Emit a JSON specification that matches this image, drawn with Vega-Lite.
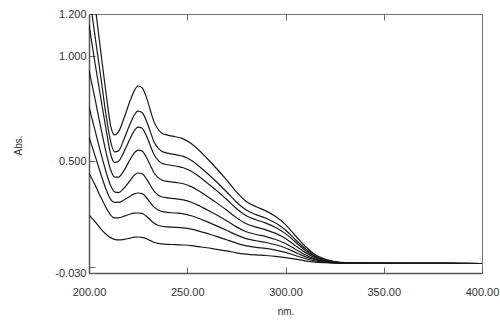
{
  "$schema": "https://vega.github.io/schema/vega-lite/v6.json",
  "autosize": "none",
  "width": 393,
  "height": 259,
  "padding": {"left": 89, "top": 14, "right": 18, "bottom": 50},
  "background": "white",
  "config": {
    "view": {"stroke": "#777777", "strokeWidth": 1},
    "axis": {"labelFont": "Liberation Sans", "titleFont": "Liberation Sans", "labelColor": "#333333", "titleColor": "#333333", "grid": false, "domainColor": "#555555", "domainWidth": 1.5, "tickColor": "#666666"}
  },
  "datasets": {
    "spec": [
      {"s":"c8","x":200,"y":1.48},{"s":"c8","x":203,"y":1.25},{"s":"c8","x":206,"y":1.02},{"s":"c8","x":209,"y":0.80},{"s":"c8","x":211,"y":0.67},{"s":"c8","x":213,"y":0.626},{"s":"c8","x":215,"y":0.64},{"s":"c8","x":218,"y":0.71},{"s":"c8","x":221,"y":0.79},{"s":"c8","x":223,"y":0.835},{"s":"c8","x":225,"y":0.858},{"s":"c8","x":227,"y":0.85},{"s":"c8","x":229,"y":0.81},{"s":"c8","x":231,"y":0.75},{"s":"c8","x":233,"y":0.69},{"s":"c8","x":235,"y":0.655},{"s":"c8","x":237,"y":0.635},{"s":"c8","x":240,"y":0.625},{"s":"c8","x":244,"y":0.617},{"s":"c8","x":248,"y":0.607},{"s":"c8","x":252,"y":0.585},{"s":"c8","x":256,"y":0.553},{"s":"c8","x":260,"y":0.515},{"s":"c8","x":265,"y":0.465},{"s":"c8","x":270,"y":0.412},{"s":"c8","x":275,"y":0.355},{"s":"c8","x":280,"y":0.31},{"s":"c8","x":285,"y":0.285},{"s":"c8","x":290,"y":0.265},{"s":"c8","x":295,"y":0.238},{"s":"c8","x":300,"y":0.20},{"s":"c8","x":305,"y":0.148},{"s":"c8","x":310,"y":0.097},{"s":"c8","x":315,"y":0.058},{"s":"c8","x":320,"y":0.036},{"s":"c8","x":325,"y":0.024},{"s":"c8","x":330,"y":0.019},{"s":"c8","x":340,"y":0.017},{"s":"c8","x":360,"y":0.016},{"s":"c8","x":380,"y":0.016},{"s":"c8","x":400,"y":0.015},
      {"s":"c7","x":200,"y":1.30},{"s":"c7","x":203,"y":1.10},{"s":"c7","x":206,"y":0.90},{"s":"c7","x":209,"y":0.70},{"s":"c7","x":211,"y":0.595},{"s":"c7","x":213,"y":0.545},{"s":"c7","x":215,"y":0.55},{"s":"c7","x":218,"y":0.61},{"s":"c7","x":221,"y":0.68},{"s":"c7","x":223,"y":0.72},{"s":"c7","x":225,"y":0.739},{"s":"c7","x":227,"y":0.732},{"s":"c7","x":229,"y":0.698},{"s":"c7","x":231,"y":0.647},{"s":"c7","x":233,"y":0.595},{"s":"c7","x":235,"y":0.565},{"s":"c7","x":237,"y":0.548},{"s":"c7","x":240,"y":0.539},{"s":"c7","x":244,"y":0.532},{"s":"c7","x":248,"y":0.524},{"s":"c7","x":252,"y":0.505},{"s":"c7","x":256,"y":0.477},{"s":"c7","x":260,"y":0.445},{"s":"c7","x":265,"y":0.402},{"s":"c7","x":270,"y":0.356},{"s":"c7","x":275,"y":0.307},{"s":"c7","x":280,"y":0.269},{"s":"c7","x":285,"y":0.247},{"s":"c7","x":290,"y":0.230},{"s":"c7","x":295,"y":0.207},{"s":"c7","x":300,"y":0.174},{"s":"c7","x":305,"y":0.129},{"s":"c7","x":310,"y":0.086},{"s":"c7","x":315,"y":0.052},{"s":"c7","x":320,"y":0.033},{"s":"c7","x":325,"y":0.023},{"s":"c7","x":330,"y":0.019},{"s":"c7","x":340,"y":0.017},{"s":"c7","x":360,"y":0.016},{"s":"c7","x":380,"y":0.016},{"s":"c7","x":400,"y":0.015},
      {"s":"c6","x":200,"y":1.15},{"s":"c6","x":203,"y":0.97},{"s":"c6","x":206,"y":0.80},{"s":"c6","x":209,"y":0.635},{"s":"c6","x":211,"y":0.535},{"s":"c6","x":213,"y":0.495},{"s":"c6","x":215,"y":0.50},{"s":"c6","x":218,"y":0.55},{"s":"c6","x":221,"y":0.61},{"s":"c6","x":223,"y":0.645},{"s":"c6","x":225,"y":0.663},{"s":"c6","x":227,"y":0.657},{"s":"c6","x":229,"y":0.626},{"s":"c6","x":231,"y":0.580},{"s":"c6","x":233,"y":0.534},{"s":"c6","x":235,"y":0.507},{"s":"c6","x":237,"y":0.491},{"s":"c6","x":240,"y":0.484},{"s":"c6","x":244,"y":0.478},{"s":"c6","x":248,"y":0.470},{"s":"c6","x":252,"y":0.453},{"s":"c6","x":256,"y":0.428},{"s":"c6","x":260,"y":0.399},{"s":"c6","x":265,"y":0.361},{"s":"c6","x":270,"y":0.320},{"s":"c6","x":275,"y":0.276},{"s":"c6","x":280,"y":0.242},{"s":"c6","x":285,"y":0.223},{"s":"c6","x":290,"y":0.207},{"s":"c6","x":295,"y":0.186},{"s":"c6","x":300,"y":0.157},{"s":"c6","x":305,"y":0.117},{"s":"c6","x":310,"y":0.078},{"s":"c6","x":315,"y":0.048},{"s":"c6","x":320,"y":0.031},{"s":"c6","x":325,"y":0.022},{"s":"c6","x":330,"y":0.018},{"s":"c6","x":340,"y":0.017},{"s":"c6","x":360,"y":0.016},{"s":"c6","x":380,"y":0.016},{"s":"c6","x":400,"y":0.015},
      {"s":"c5","x":200,"y":0.934},{"s":"c5","x":203,"y":0.80},{"s":"c5","x":206,"y":0.66},{"s":"c5","x":209,"y":0.53},{"s":"c5","x":211,"y":0.46},{"s":"c5","x":213,"y":0.425},{"s":"c5","x":215,"y":0.425},{"s":"c5","x":218,"y":0.46},{"s":"c5","x":221,"y":0.51},{"s":"c5","x":223,"y":0.54},{"s":"c5","x":225,"y":0.554},{"s":"c5","x":227,"y":0.549},{"s":"c5","x":229,"y":0.523},{"s":"c5","x":231,"y":0.485},{"s":"c5","x":233,"y":0.447},{"s":"c5","x":235,"y":0.424},{"s":"c5","x":237,"y":0.412},{"s":"c5","x":240,"y":0.405},{"s":"c5","x":244,"y":0.400},{"s":"c5","x":248,"y":0.394},{"s":"c5","x":252,"y":0.380},{"s":"c5","x":256,"y":0.359},{"s":"c5","x":260,"y":0.335},{"s":"c5","x":265,"y":0.303},{"s":"c5","x":270,"y":0.269},{"s":"c5","x":275,"y":0.233},{"s":"c5","x":280,"y":0.204},{"s":"c5","x":285,"y":0.188},{"s":"c5","x":290,"y":0.175},{"s":"c5","x":295,"y":0.158},{"s":"c5","x":300,"y":0.134},{"s":"c5","x":305,"y":0.100},{"s":"c5","x":310,"y":0.068},{"s":"c5","x":315,"y":0.043},{"s":"c5","x":320,"y":0.029},{"s":"c5","x":325,"y":0.021},{"s":"c5","x":330,"y":0.018},{"s":"c5","x":340,"y":0.017},{"s":"c5","x":360,"y":0.016},{"s":"c5","x":380,"y":0.016},{"s":"c5","x":400,"y":0.015},
      {"s":"c4","x":200,"y":0.758},{"s":"c4","x":203,"y":0.65},{"s":"c4","x":206,"y":0.54},{"s":"c4","x":209,"y":0.44},{"s":"c4","x":211,"y":0.385},{"s":"c4","x":213,"y":0.355},{"s":"c4","x":215,"y":0.352},{"s":"c4","x":218,"y":0.375},{"s":"c4","x":221,"y":0.41},{"s":"c4","x":223,"y":0.435},{"s":"c4","x":225,"y":0.445},{"s":"c4","x":227,"y":0.441},{"s":"c4","x":229,"y":0.421},{"s":"c4","x":231,"y":0.390},{"s":"c4","x":233,"y":0.360},{"s":"c4","x":235,"y":0.342},{"s":"c4","x":237,"y":0.332},{"s":"c4","x":240,"y":0.327},{"s":"c4","x":244,"y":0.323},{"s":"c4","x":248,"y":0.317},{"s":"c4","x":252,"y":0.306},{"s":"c4","x":256,"y":0.290},{"s":"c4","x":260,"y":0.270},{"s":"c4","x":265,"y":0.245},{"s":"c4","x":270,"y":0.218},{"s":"c4","x":275,"y":0.189},{"s":"c4","x":280,"y":0.166},{"s":"c4","x":285,"y":0.153},{"s":"c4","x":290,"y":0.143},{"s":"c4","x":295,"y":0.129},{"s":"c4","x":300,"y":0.110},{"s":"c4","x":305,"y":0.083},{"s":"c4","x":310,"y":0.057},{"s":"c4","x":315,"y":0.037},{"s":"c4","x":320,"y":0.026},{"s":"c4","x":325,"y":0.020},{"s":"c4","x":330,"y":0.018},{"s":"c4","x":340,"y":0.017},{"s":"c4","x":360,"y":0.016},{"s":"c4","x":380,"y":0.016},{"s":"c4","x":400,"y":0.015},
      {"s":"c3","x":200,"y":0.616},{"s":"c3","x":203,"y":0.53},{"s":"c3","x":206,"y":0.44},{"s":"c3","x":209,"y":0.36},{"s":"c3","x":211,"y":0.32},{"s":"c3","x":213,"y":0.305},{"s":"c3","x":215,"y":0.305},{"s":"c3","x":218,"y":0.318},{"s":"c3","x":221,"y":0.335},{"s":"c3","x":223,"y":0.346},{"s":"c3","x":225,"y":0.350},{"s":"c3","x":227,"y":0.347},{"s":"c3","x":229,"y":0.331},{"s":"c3","x":231,"y":0.307},{"s":"c3","x":233,"y":0.284},{"s":"c3","x":235,"y":0.270},{"s":"c3","x":237,"y":0.262},{"s":"c3","x":240,"y":0.258},{"s":"c3","x":244,"y":0.255},{"s":"c3","x":248,"y":0.251},{"s":"c3","x":252,"y":0.242},{"s":"c3","x":256,"y":0.229},{"s":"c3","x":260,"y":0.214},{"s":"c3","x":265,"y":0.194},{"s":"c3","x":270,"y":0.173},{"s":"c3","x":275,"y":0.151},{"s":"c3","x":280,"y":0.133},{"s":"c3","x":285,"y":0.123},{"s":"c3","x":290,"y":0.115},{"s":"c3","x":295,"y":0.104},{"s":"c3","x":300,"y":0.089},{"s":"c3","x":305,"y":0.068},{"s":"c3","x":310,"y":0.048},{"s":"c3","x":315,"y":0.033},{"s":"c3","x":320,"y":0.024},{"s":"c3","x":325,"y":0.019},{"s":"c3","x":330,"y":0.017},{"s":"c3","x":340,"y":0.016},{"s":"c3","x":360,"y":0.016},{"s":"c3","x":380,"y":0.016},{"s":"c3","x":400,"y":0.015},
      {"s":"c2","x":200,"y":0.445},{"s":"c2","x":203,"y":0.39},{"s":"c2","x":206,"y":0.33},{"s":"c2","x":209,"y":0.275},{"s":"c2","x":211,"y":0.245},{"s":"c2","x":213,"y":0.232},{"s":"c2","x":215,"y":0.232},{"s":"c2","x":218,"y":0.24},{"s":"c2","x":221,"y":0.25},{"s":"c2","x":223,"y":0.254},{"s":"c2","x":225,"y":0.255},{"s":"c2","x":227,"y":0.253},{"s":"c2","x":229,"y":0.241},{"s":"c2","x":231,"y":0.224},{"s":"c2","x":233,"y":0.207},{"s":"c2","x":235,"y":0.197},{"s":"c2","x":237,"y":0.192},{"s":"c2","x":240,"y":0.189},{"s":"c2","x":244,"y":0.187},{"s":"c2","x":248,"y":0.184},{"s":"c2","x":252,"y":0.178},{"s":"c2","x":256,"y":0.169},{"s":"c2","x":260,"y":0.158},{"s":"c2","x":265,"y":0.144},{"s":"c2","x":270,"y":0.128},{"s":"c2","x":275,"y":0.112},{"s":"c2","x":280,"y":0.099},{"s":"c2","x":285,"y":0.092},{"s":"c2","x":290,"y":0.087},{"s":"c2","x":295,"y":0.079},{"s":"c2","x":300,"y":0.068},{"s":"c2","x":305,"y":0.053},{"s":"c2","x":310,"y":0.039},{"s":"c2","x":315,"y":0.028},{"s":"c2","x":320,"y":0.022},{"s":"c2","x":325,"y":0.018},{"s":"c2","x":330,"y":0.017},{"s":"c2","x":340,"y":0.016},{"s":"c2","x":360,"y":0.016},{"s":"c2","x":380,"y":0.016},{"s":"c2","x":400,"y":0.015},
      {"s":"c1","x":200,"y":0.245},{"s":"c1","x":203,"y":0.215},{"s":"c1","x":206,"y":0.18},{"s":"c1","x":209,"y":0.152},{"s":"c1","x":211,"y":0.138},{"s":"c1","x":213,"y":0.13},{"s":"c1","x":215,"y":0.127},{"s":"c1","x":218,"y":0.13},{"s":"c1","x":221,"y":0.136},{"s":"c1","x":223,"y":0.14},{"s":"c1","x":225,"y":0.141},{"s":"c1","x":227,"y":0.139},{"s":"c1","x":229,"y":0.134},{"s":"c1","x":231,"y":0.125},{"s":"c1","x":233,"y":0.116},{"s":"c1","x":235,"y":0.111},{"s":"c1","x":237,"y":0.108},{"s":"c1","x":240,"y":0.106},{"s":"c1","x":244,"y":0.105},{"s":"c1","x":248,"y":0.103},{"s":"c1","x":252,"y":0.100},{"s":"c1","x":256,"y":0.095},{"s":"c1","x":260,"y":0.090},{"s":"c1","x":265,"y":0.082},{"s":"c1","x":270,"y":0.075},{"s":"c1","x":275,"y":0.066},{"s":"c1","x":280,"y":0.060},{"s":"c1","x":285,"y":0.056},{"s":"c1","x":290,"y":0.053},{"s":"c1","x":295,"y":0.049},{"s":"c1","x":300,"y":0.043},{"s":"c1","x":305,"y":0.036},{"s":"c1","x":310,"y":0.028},{"s":"c1","x":315,"y":0.022},{"s":"c1","x":320,"y":0.019},{"s":"c1","x":325,"y":0.017},{"s":"c1","x":330,"y":0.016},{"s":"c1","x":340,"y":0.016},{"s":"c1","x":360,"y":0.016},{"s":"c1","x":380,"y":0.016},{"s":"c1","x":400,"y":0.015}
    ]
  },
  "data": {"name": "spec"},
  "layer": [
    {
      "mark": {"type": "line", "clip": true, "interpolate": "monotone", "color": "#1a1a1a", "strokeWidth": 1.2},
      "encoding": {
        "x": {"field": "x", "type": "quantitative", "scale": {"domain": [200, 400], "nice": false, "zero": false},
          "axis": {"values": [200, 250, 300, 350, 400], "format": ".2f", "title": "nm.", "tickSize": -6, "labelPadding": 19, "labelFontSize": 11, "titleFontSize": 10, "titleFontWeight": "normal", "titlePadding": 9, "labelFlush": false}},
        "y": {"field": "y", "type": "quantitative", "scale": {"domain": [-0.03, 1.2], "nice": false, "zero": false},
          "axis": {"values": [-0.03, 0, 0.5, 1.0, 1.2], "labelExpr": "datum.value == 0 ? '' : replace(format(datum.value, '.3f'), '\u2212', '-')", "title": "Abs.", "tickSize": -6, "labelPadding": 9, "labelFontSize": 11, "titleFontSize": 10, "titleFontWeight": "normal", "titleX": -71, "titleY": 131, "titleAlign": "center", "titleBaseline": "middle", "labelFlush": false}},
        "detail": {"field": "s"}
      }
    },
    {
      "mark": {"type": "line", "opacity": 0},
      "encoding": {
        "x": {"field": "x", "type": "quantitative", "axis": {"orient": "top", "values": [250, 300, 350], "labels": false, "title": null, "tickSize": -6, "domain": false}},
        "y": {"field": "y", "type": "quantitative"},
        "detail": {"field": "s"}
      }
    }
  ],
  "resolve": {"axis": {"x": "independent"}}
}
